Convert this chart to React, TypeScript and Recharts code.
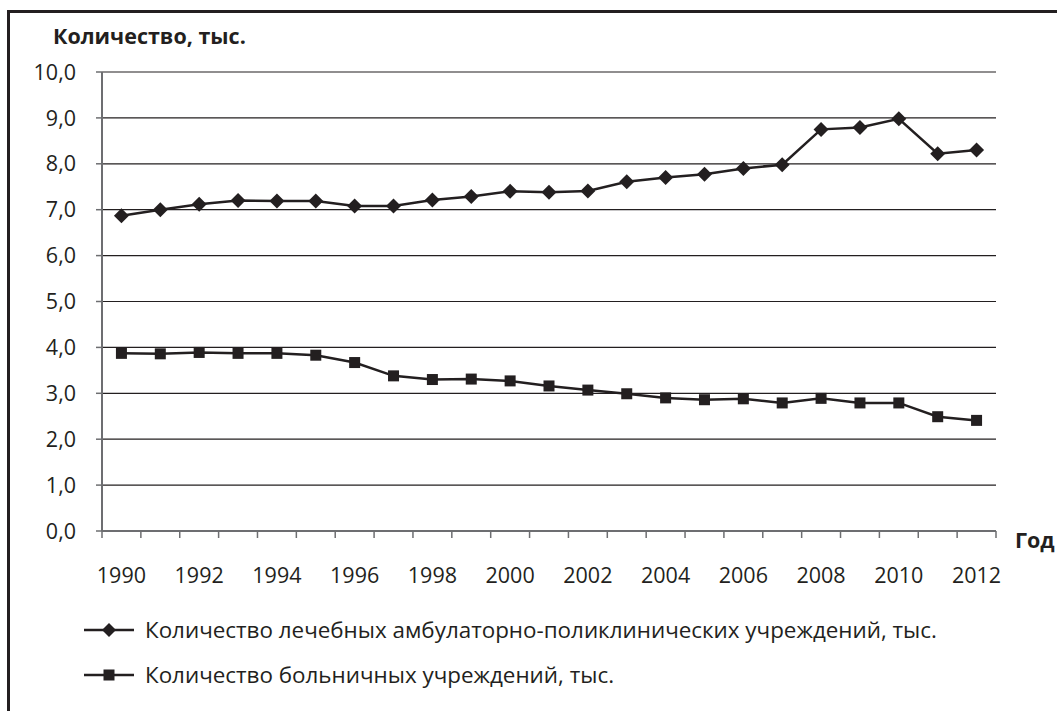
import { LineChart, Line, XAxis, YAxis, CartesianGrid } from "recharts";

const years = [
  1990, 1991, 1992, 1993, 1994, 1995, 1996, 1997, 1998, 1999, 2000, 2001,
  2002, 2003, 2004, 2005, 2006, 2007, 2008, 2009, 2010, 2011, 2012,
];

// лечебные амбулаторно-поликлинические учреждения, тыс.
const outpatient = [
  6.87, 7.0, 7.12, 7.2, 7.19, 7.19, 7.08, 7.08, 7.21, 7.29, 7.4, 7.38,
  7.41, 7.61, 7.7, 7.77, 7.9, 7.98, 8.75, 8.79, 8.98, 8.22, 8.3,
];

// больничные учреждения, тыс.
const hospitals = [
  3.87, 3.86, 3.89, 3.87, 3.87, 3.83, 3.67, 3.38, 3.3, 3.31, 3.27, 3.16,
  3.07, 2.99, 2.9, 2.86, 2.88, 2.79, 2.89, 2.79, 2.79, 2.49, 2.41,
];

const yTicks = [0, 1, 2, 3, 4, 5, 6, 7, 8, 9, 10];

const seriesNames = [
  "Количество лечебных амбулаторно-поликлинических учреждений, тыс.",
  "Количество больничных учреждений, тыс.",
];

const data = years.map((year, i) => ({
  year,
  outpatient: outpatient[i],
  hospitals: hospitals[i],
}));

const W = 1057;
const H = 711;
const MARGIN = { top: 72, right: 61, left: 0, bottom: 0 };
const Y_AXIS_W = 102;
const X_AXIS_H = 180;
const BAND = (W - MARGIN.right - Y_AXIS_W) / years.length;

const INK = "#231f20";
const AXIS = "#6d6e71";
const FONT = "'Open Sans', 'Noto Sans', sans-serif";
const FS = 21.5;

function YearTick(props: any) {
  const { x, y, payload, index } = props;
  const last = index === years.length - 1;
  return (
    <g>
      <line x1={x - BAND / 2} x2={x - BAND / 2} y1={y} y2={y + 7} stroke={AXIS} strokeWidth={1.5} />
      {last && (
        <line x1={x + BAND / 2} x2={x + BAND / 2} y1={y} y2={y + 7} stroke={AXIS} strokeWidth={1.5} />
      )}
      {payload.value % 2 === 0 && (
        <text x={x} y={y + 43} textAnchor="middle" dominantBaseline="central" fill={INK} fontSize={FS} fontFamily={FONT}>
          {payload.value}
        </text>
      )}
    </g>
  );
}

function Diamond({ cx, cy, r = 7.5 }: { cx: number; cy: number; r?: number }) {
  return <path d={`M${cx},${cy - r}L${cx + r},${cy}L${cx},${cy + r}L${cx - r},${cy}Z`} fill={INK} />;
}

function Square({ cx, cy, s = 11 }: { cx: number; cy: number; s?: number }) {
  return <rect x={cx - s / 2} y={cy - s / 2} width={s} height={s} fill={INK} />;
}

function LegendRow({ kind, label }: { kind: "diamond" | "square"; label: string }) {
  return (
    <div style={{ display: "flex", alignItems: "center", height: 45 }}>
      <svg width={62} height={20} style={{ flex: "none" }}>
        <line x1={1} x2={51} y1={10} y2={10} stroke={INK} strokeWidth={2.5} />
        {kind === "diamond" ? <Diamond cx={26} cy={10} r={7} /> : <Square cx={26} cy={10} s={11} />}
      </svg>
      <span style={{ fontSize: 22.4, color: INK, fontFamily: FONT, whiteSpace: "nowrap" }}>{label}</span>
    </div>
  );
}

export default function App() {
  return (
    <div style={{ position: "absolute", left: 0, top: 0, width: W, height: H, background: "#fff", overflow: "hidden" }}>
      <div
        style={{
          position: "absolute",
          left: 7,
          top: 10,
          width: W,
          height: H,
          borderLeft: `3px solid ${INK}`,
          borderTop: `3px solid ${INK}`,
        }}
      />
      <div style={{ position: "absolute", left: 0, top: 0 }}>
        <LineChart width={W} height={H} data={data} margin={MARGIN}>
          <CartesianGrid vertical={false} stroke={INK} strokeWidth={1.2} />
          <XAxis
            dataKey="year"
            type="number"
            domain={[1989.5, 2012.5]}
            ticks={years}
            interval={0}
            height={X_AXIS_H}
            tickLine={false}
            tickSize={0}
            tickMargin={0}
            axisLine={{ stroke: AXIS, strokeWidth: 2 }}
            tick={<YearTick />}
          />
          <YAxis
            type="number"
            domain={[0, 10]}
            ticks={yTicks}
            interval={0}
            width={Y_AXIS_W}
            tickSize={6}
            tickMargin={20}
            tickLine={{ stroke: AXIS, strokeWidth: 1.5 }}
            axisLine={{ stroke: AXIS, strokeWidth: 2 }}
            tick={{ fill: INK, fontSize: FS, fontFamily: FONT }}
            tickFormatter={(v: number) => v.toFixed(1).replace(".", ",")}
          />
          <Line
            dataKey="outpatient"
            stroke={INK}
            strokeWidth={2.5}
            isAnimationActive={false}
            dot={(p: any) => <Diamond key={`d${p.index}`} cx={p.cx} cy={p.cy} />}
          />
          <Line
            dataKey="hospitals"
            stroke={INK}
            strokeWidth={2.5}
            isAnimationActive={false}
            dot={(p: any) => <Square key={`s${p.index}`} cx={p.cx} cy={p.cy} />}
          />
        </LineChart>
      </div>
      <div style={{ position: "absolute", left: 53, top: 22, fontFamily: FONT, fontWeight: 700, fontSize: FS, color: INK, lineHeight: "28px" }}>
        Количество, тыс.
      </div>
      <div style={{ position: "absolute", left: 1015, top: 526, fontFamily: FONT, fontWeight: 700, fontSize: FS, color: INK, lineHeight: "28px" }}>
        Год
      </div>
      <div style={{ position: "absolute", left: 83, top: 607 }}>
        <LegendRow kind="diamond" label={seriesNames[0]} />
        <LegendRow kind="square" label={seriesNames[1]} />
      </div>
    </div>
  );
}
